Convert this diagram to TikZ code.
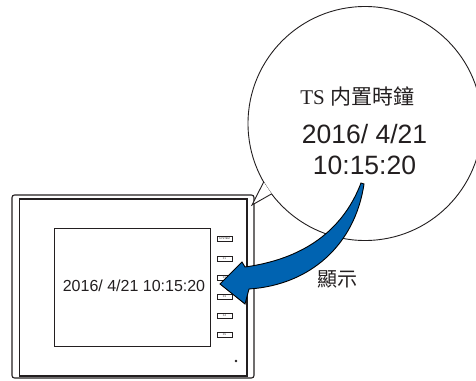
\documentclass[tikz,border=0pt]{standalone}
\usepackage{fontspec}
\setmainfont{Liberation Sans}
\newfontfamily\tsserif{Liberation Serif}
\newfontfamily\cjk{Noto Sans CJK TC}
\definecolor{arrowblue}{RGB}{0,99,177}
\definecolor{ink}{RGB}{35,31,32}
\begin{document}
\begin{tikzpicture}[x=1pt,y=-1pt,
  every node/.style={inner sep=0pt, outer sep=0pt, text=ink},
  panel/.style={draw=ink, line width=1.1pt, fill=white},
  fkey/.style={draw=ink, line width=0.6pt, minimum width=15pt, minimum height=4.5pt,
               font=\fontsize{2.6}{3}\selectfont},
  bubble/.style={circle, draw=ink, line width=0.9pt, fill=white, minimum size=234pt},
  bigarrow/.style={fill=arrowblue, draw=black, line width=0.9pt, line join=miter}]
\useasboundingbox (0,0) rectangle (476,380);

% touch panel housing
\node[panel, rounded corners=2.5pt, minimum width=242pt, minimum height=183pt] (bezel) at (133,286.5) {};
\node[panel, minimum width=227.5pt, minimum height=177pt] (inner) at (133.25,287.5) {};
\node[draw=ink, line width=0.9pt, minimum width=156pt, minimum height=118pt] (screen) at (132,287) {};
\node[font=\fontsize{16}{18}\selectfont] (clock) at (134,286) {2016/ 4/21 10:15:20};

% function keys
\node[fkey] (ksys) at (224.5,239) {SYSTEM};
\node[fkey] (kf1) at (224.5,259) {F1};
\node[fkey] (kf2) at (224.5,278) {F2};
\node[fkey] (kf3) at (224.5,297) {F3};
\node[fkey] (kf4) at (224.5,316) {F4};
\node[fkey] (kf5) at (224.5,335) {F5};
\fill[ink] (236,361) circle (1.3);

% speech bubble with its tail
\node[bubble] (bubble) at (365,123.5) {};
\coordinate (tailtip) at (252,205);
\fill[white] (bubble.210.75) -- (tailtip) -- (bubble.217.2) -- cycle;
\draw[ink, line width=0.9pt, line join=miter] (bubble.210.75) -- (tailtip) -- (bubble.217.2);

\node[font=\fontsize{21}{24}\selectfont] (title) at (357.5,96) {{\tsserif TS} {\cjk 内置時鐘}};
\node[font=\fontsize{26.5}{31}\selectfont, align=center] (stamp) at (364.5,150) {2016/ 4/21\\10:15:20};

% curved display arrow
\path[bigarrow] (361,183) .. controls (345,225) and (310,258) .. (245,267)
  -- (242,262) -- (220,284) -- (245,304) -- (249,289)
  .. controls (310,285) and (355,245) .. (364,184) -- cycle;

\node[font=\cjk\fontsize{20}{24}\selectfont] (show) at (337,279.5) {顯示};
\end{tikzpicture}
\end{document}
